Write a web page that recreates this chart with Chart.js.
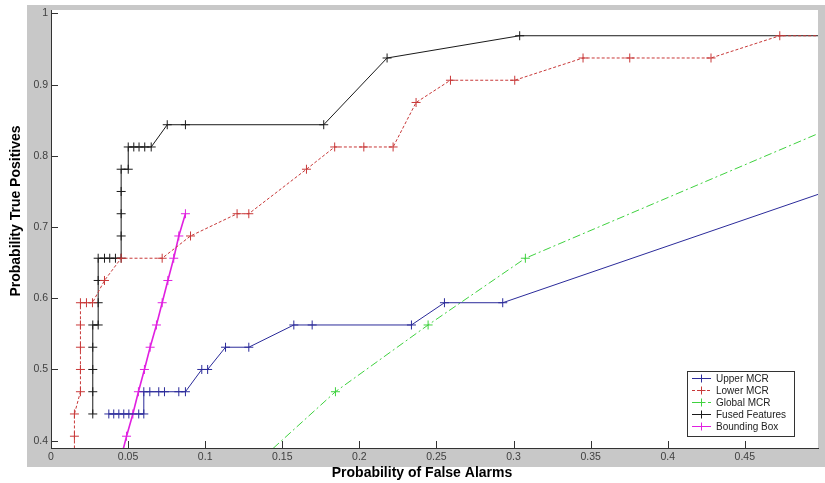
<!DOCTYPE html>
<html>
<head>
<meta charset="utf-8">
<script src="https://cdn.jsdelivr.net/npm/chart.js@4.4.0/dist/chart.umd.min.js"></script>
<style>
html,body{margin:0;padding:0;background:#fff;}
#c{display:block;}
</style>
</head>
<body>
<canvas id="c" width="825" height="483"></canvas>
<script>
// ---- data ----
const seriesLabels = ['Upper MCR', 'Lower MCR', 'Global MCR', 'Fused Features', 'Bounding Box'];

const upperX = [0.0375,0.0407,0.0440,0.0472,0.0505,0.0569,0.0602,0.0602,0.0641,0.0699,0.0736,0.0829,0.0872,0.0978,0.1016,0.1132,0.1283,0.1575,0.1694,0.2338,0.2552,0.2930,0.5450];
const upperY = [0.4375,0.4375,0.4375,0.4375,0.4375,0.4375,0.4375,0.46875,0.46875,0.46875,0.46875,0.46875,0.46875,0.5,0.5,0.53125,0.53125,0.5625,0.5625,0.5625,0.59375,0.59375,0.78125];

const lowerX = [0.0152,0.0152,0.0152,0.0191,0.0191,0.0191,0.0191,0.0191,0.0230,0.0269,0.0347,0.0455,0.0721,0.0905,0.1207,0.1283,0.1657,0.1840,0.2029,0.2219,0.2368,0.2591,0.3008,0.3451,0.3754,0.4281,0.4727,1.0];
const lowerY = [0.375,0.40625,0.4375,0.46875,0.5,0.53125,0.5625,0.59375,0.59375,0.59375,0.625,0.65625,0.65625,0.6875,0.71875,0.71875,0.78125,0.8125,0.8125,0.8125,0.875,0.90625,0.90625,0.9375,0.9375,0.9375,0.96875,0.96875];

const globalX = [0.121,0.1845,0.2446,0.3077,0.545];
const globalY = [0.34375,0.46875,0.5625,0.65625,0.875];

const fusedX = [0.0271,0.0271,0.0271,0.0271,0.0271,0.0306,0.0306,0.0306,0.0306,0.0347,0.0381,0.0418,0.0455,0.0455,0.0455,0.0455,0.0455,0.0501,0.0501,0.0537,0.0571,0.0608,0.0650,0.0754,0.0872,0.1769,0.2180,0.3040,1.0];
const fusedY = [0.4375,0.46875,0.5,0.53125,0.5625,0.5625,0.59375,0.625,0.65625,0.65625,0.65625,0.65625,0.65625,0.6875,0.71875,0.75,0.78125,0.78125,0.8125,0.8125,0.8125,0.8125,0.8125,0.84375,0.84375,0.84375,0.9375,0.96875,0.96875];

const boxX = [0.0453,0.0490,0.0531,0.0567,0.0606,0.0643,0.0684,0.0721,0.0758,0.0796,0.0829,0.0872];
const boxY = [0.375,0.40625,0.4375,0.46875,0.5,0.53125,0.5625,0.59375,0.625,0.65625,0.6875,0.71875];

const xTicks = [0,0.05,0.1,0.15,0.2,0.25,0.3,0.35,0.4,0.45];
const xTickLabels = ['0','0.05','0.1','0.15','0.2','0.25','0.3','0.35','0.4','0.45'];
const yTicks = [0.4,0.5,0.6,0.7,0.8,0.9,1];
const yTickLabels = ['0.4','0.5','0.6','0.7','0.8','0.9','1'];

const xTitle = 'Probability of False Alarms';
const yTitle = 'Probability True Positives';

// ---- build ----
function pts(xs, ys){ return xs.map((x,i)=>({x:x, y:ys[i]})); }
const colors = ['#2b2b9a','#c83838','#3fd23f','#1a1a1a','#e020e0'];
const dashes = [[], [3,2], [8,3,2,3], [], []];
const widths = [1, 1, 1, 1, 1.6];
const allData = [pts(upperX,upperY), pts(lowerX,lowerY), pts(globalX,globalY), pts(fusedX,fusedY), pts(boxX,boxY)];

const datasets = allData.map((d,i)=>({
  label: seriesLabels[i],
  data: d,
  borderColor: colors[i],
  backgroundColor: colors[i],
  borderWidth: widths[i],
  borderDash: dashes[i],
  pointStyle: 'cross',
  pointRadius: 4.5,
  pointHoverRadius: 4.5,
  pointBorderWidth: 1,
  pointBorderColor: colors[i],
  tension: 0,
  fill: false
}));

const FONT = "'Liberation Sans', Arial, sans-serif";

const decor = {
  id: 'decor',
  beforeDraw(chart){
    const ctx = chart.ctx, a = chart.chartArea;
    ctx.save();
    ctx.fillStyle = '#ffffff';
    ctx.fillRect(0,0,chart.width,chart.height);
    ctx.fillStyle = '#c8c8c8';
    ctx.fillRect(27,5,chart.width-27,462);
    ctx.fillStyle = '#ffffff';
    ctx.fillRect(a.left,a.top,a.right-a.left,a.bottom-a.top);
    ctx.restore();
  },
  afterDraw(chart){
    const ctx = chart.ctx, a = chart.chartArea;
    const xs = chart.scales.x, ys = chart.scales.y;
    ctx.save();
    // inward tick marks
    ctx.strokeStyle = '#333';
    ctx.lineWidth = 1;
    ctx.beginPath();
    xTicks.forEach(v=>{
      const px = Math.round(xs.getPixelForValue(v))+0.5;
      ctx.moveTo(px, a.bottom); ctx.lineTo(px, a.bottom-7);
    });
    yTicks.forEach(v=>{
      const py = Math.round(ys.getPixelForValue(v))+0.5;
      ctx.moveTo(a.left, py); ctx.lineTo(a.left+7, py);
    });
    ctx.stroke();

    // titles
    ctx.fillStyle = '#000';
    ctx.font = 'bold 14px ' + FONT;
    ctx.textAlign = 'center';
    ctx.textBaseline = 'middle';
    ctx.fillText(xTitle, 422, 473);
    ctx.save();
    ctx.translate(16, 211);
    ctx.rotate(-Math.PI/2);
    ctx.fillText(yTitle, 0, 0);
    ctx.restore();

    // legend
    const bx = 687.5, by = 371.5, bw = 107, bh = 65;
    ctx.fillStyle = '#fff';
    ctx.fillRect(bx,by,bw,bh);
    ctx.strokeStyle = '#333';
    ctx.lineWidth = 1;
    ctx.strokeRect(bx,by,bw,bh);
    ctx.font = '10px ' + FONT;
    ctx.textAlign = 'left';
    chart.data.datasets.forEach((ds,i)=>{
      const cy = Math.round(377.5 + i*12.2) + 0.5;
      ctx.strokeStyle = ds.borderColor;
      ctx.lineWidth = 1;
      ctx.setLineDash(ds.borderDash || []);
      ctx.beginPath(); ctx.moveTo(692, cy); ctx.lineTo(711, cy); ctx.stroke();
      ctx.setLineDash([]);
      ctx.beginPath(); ctx.moveTo(701.5, cy-4); ctx.lineTo(701.5, cy+4);
      ctx.moveTo(697.5, cy); ctx.lineTo(705.5, cy); ctx.stroke();
      ctx.fillStyle = '#222';
      ctx.fillText(ds.label, 716, cy+0.5);
    });
    ctx.restore();
  }
};

new Chart(document.getElementById('c'), {
  type: 'line',
  data: { datasets: datasets },
  plugins: [decor],
  options: {
    responsive: false,
    animation: false,
    devicePixelRatio: 1,
    layout: { padding: { left: 0, right: 7, top: 10, bottom: 0 } },
    plugins: { legend: { display: false }, tooltip: { enabled: false } },
    scales: {
      x: {
        type: 'linear', min: 0, max: 0.4975,
        grid: { display: false, drawTicks: false },
        border: { display: true, color: '#333', width: 1 },
        afterFit(s){ s.height = 35; },
        afterBuildTicks(s){ s.ticks = xTicks.map(v=>({value:v})); },
        ticks: {
          autoSkip: false, maxRotation: 0, padding: 3,
          color: '#404040', font: { family: FONT, size: 10.5 },
          callback(v){ const i = xTicks.findIndex(t=>Math.abs(t-v)<1e-9); return i>=0 ? xTickLabels[i] : ''; }
        }
      },
      y: {
        type: 'linear', min: 0.3897, max: 1.0049,
        grid: { display: false, drawTicks: false },
        border: { display: true, color: '#333', width: 1 },
        afterFit(s){ s.width = 51; },
        afterBuildTicks(s){ s.ticks = yTicks.map(v=>({value:v})); },
        ticks: {
          autoSkip: false, padding: 3,
          color: '#404040', font: { family: FONT, size: 10.5 },
          callback(v){ const i = yTicks.findIndex(t=>Math.abs(t-v)<1e-9); return i>=0 ? yTickLabels[i] : ''; }
        }
      }
    }
  }
});
</script>
</body>
</html>
